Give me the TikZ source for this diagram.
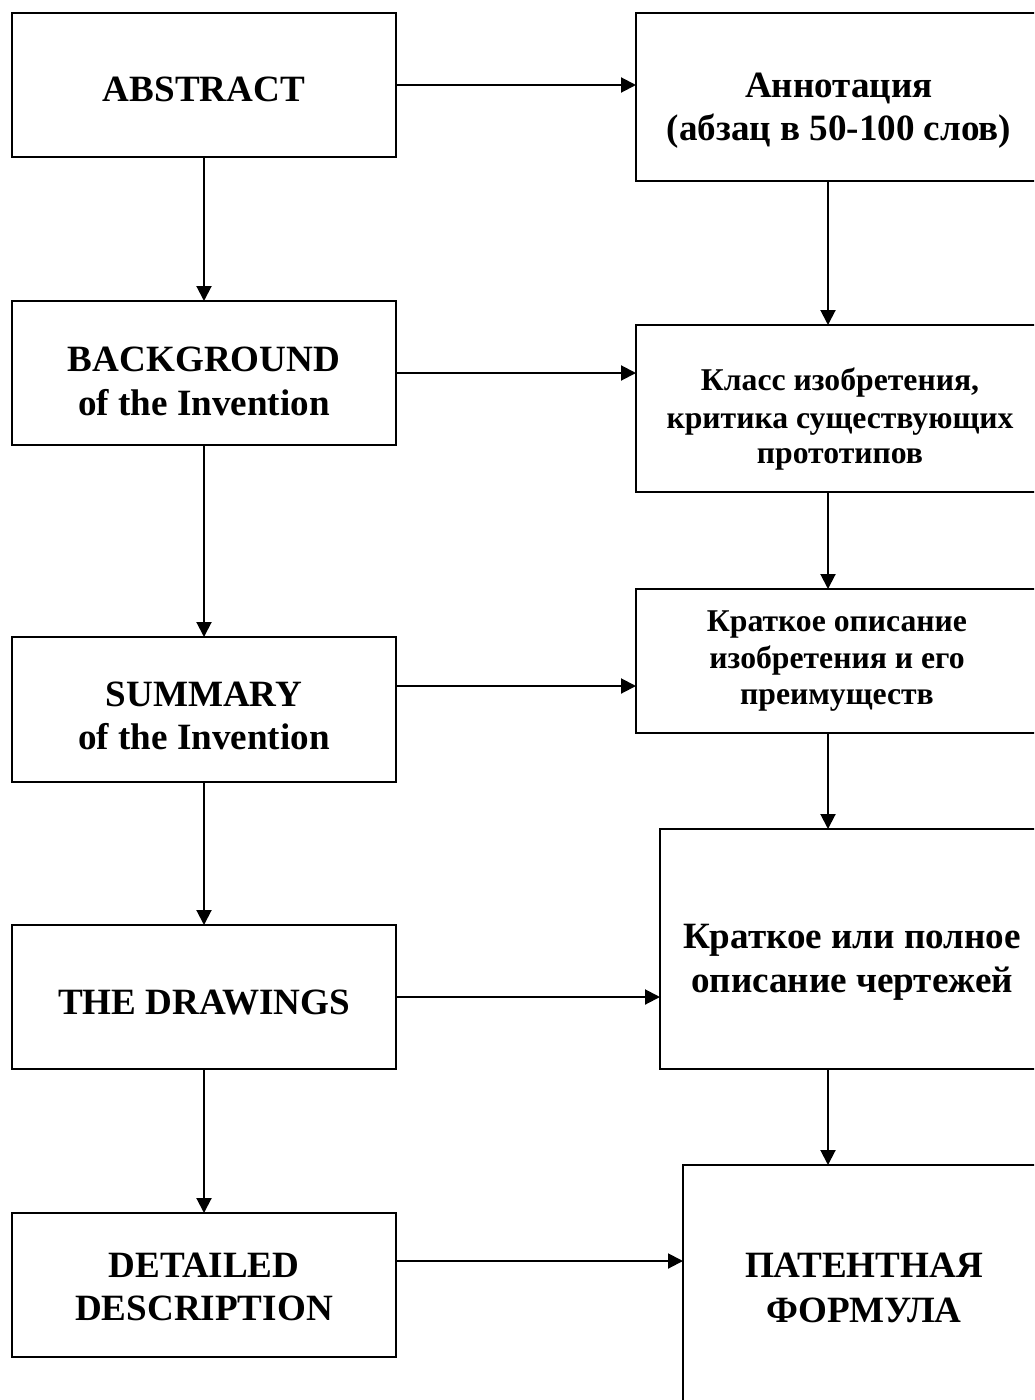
\documentclass[tikz,border=0pt]{standalone}
\usepackage{fontspec}
\setmainfont{Liberation Serif}
\usetikzlibrary{arrows.meta}
\begin{document}
\begin{tikzpicture}[x=1pt,y=-1pt,
  box/.style={draw=black,line width=2pt,fill=white,inner sep=0pt,outer sep=0pt,anchor=north west},
  big/.style={anchor=base,inner sep=0pt,font=\fontsize{37.1}{42.7}\selectfont\bfseries},
  small/.style={anchor=base,inner sep=0pt,font=\fontsize{31.7}{36.5}\selectfont\bfseries},
  arr/.style={line width=2pt,-{Triangle[length=15pt,width=15pt]}}]
\clip (0,0) rectangle (1034,1400);
\fill[white] (0,0) rectangle (1034,1400);

% left column: English sections
\node[box,minimum width=384pt,minimum height=144pt] (a1) at (12,13) {};
\node[box,minimum width=384pt,minimum height=144pt] (a2) at (12,301) {};
\node[box,minimum width=384pt,minimum height=145pt] (a3) at (12,637) {};
\node[box,minimum width=384pt,minimum height=144pt] (a4) at (12,925) {};
\node[box,minimum width=384pt,minimum height=144pt] (a5) at (12,1213) {};

% right column: Russian explanations (running past the page edge)
\node[box,minimum width=408pt,minimum height=168pt] (r1) at (636,13) {};
\node[box,minimum width=408pt,minimum height=167pt] (r2) at (636,325) {};
\node[box,minimum width=408pt,minimum height=144pt] (r3) at (636,589) {};
\node[box,minimum width=384pt,minimum height=240pt] (r4) at (660,829) {};
\node[box,minimum width=361pt,minimum height=260pt] (r5) at (683,1165) {};

% texts of the left column
\node[big] (t1) at (204,101) {ABSTRACT};
\node[big] (t2a) at (204,371) {BACKGROUND};
\node[big] (t2b) at (204,415) {of the Invention};
\node[big] (t3a) at (204,706) {SUMMARY};
\node[big] (t3b) at (204,749) {of the Invention};
\node[big] (t4) at (204,1014) {THE DRAWINGS};
\node[big] (t5a) at (204,1277) {DETAILED};
\node[big] (t5b) at (204,1320) {DESCRIPTION};

% texts of the right column
\node[big] (u1a) at (839,97) {Аннотация};
\node[big] (u1b) at (839,140) {(абзац в 50-100 слов)};
\node[small] (u2a) at (840,390) {Класс изобретения,};
\node[small] (u2b) at (840,428) {критика существующих};
\node[small] (u2c) at (840,463) {прототипов};
\node[small] (u3a) at (837,631) {Краткое описание};
\node[small] (u3b) at (837,668) {изобретения и его};
\node[small] (u3c) at (837,704) {преимуществ};
\node[big] (u4a) at (852,948) {Краткое или полное};
\node[big] (u4b) at (852,992) {описание чертежей};
\node[big] (u5a) at (864,1277) {ПАТЕНТНАЯ};
\node[big] (u5b) at (864,1322) {ФОРМУЛА};

% reference lines for connectors that are off-centre
\coordinate (rx) at (828,0);
\coordinate (h3) at (0,686);
\coordinate (h5) at (0,1261);

% vertical flow, left column
\draw[arr] (a1.south) -- (a2.north);
\draw[arr] (a2.south) -- (a3.north);
\draw[arr] (a3.south) -- (a4.north);
\draw[arr] (a4.south) -- (a5.north);

% vertical flow, right column
\draw[arr] (r1.south -| rx) -- (r2.north -| rx);
\draw[arr] (r2.south -| rx) -- (r3.north -| rx);
\draw[arr] (r3.south -| rx) -- (r4.north -| rx);
\draw[arr] (r4.south -| rx) -- (r5.north -| rx);

% horizontal links
\draw[arr] (a1.east) -- (r1.west |- a1.east);
\draw[arr] (a2.east) -- (r2.west |- a2.east);
\draw[arr] (a3.east |- h3) -- (r3.west |- h3);
\draw[arr] (a4.east) -- (r4.west |- a4.east);
\draw[arr] (a5.east |- h5) -- (r5.west |- h5);
\end{tikzpicture}
\end{document}
